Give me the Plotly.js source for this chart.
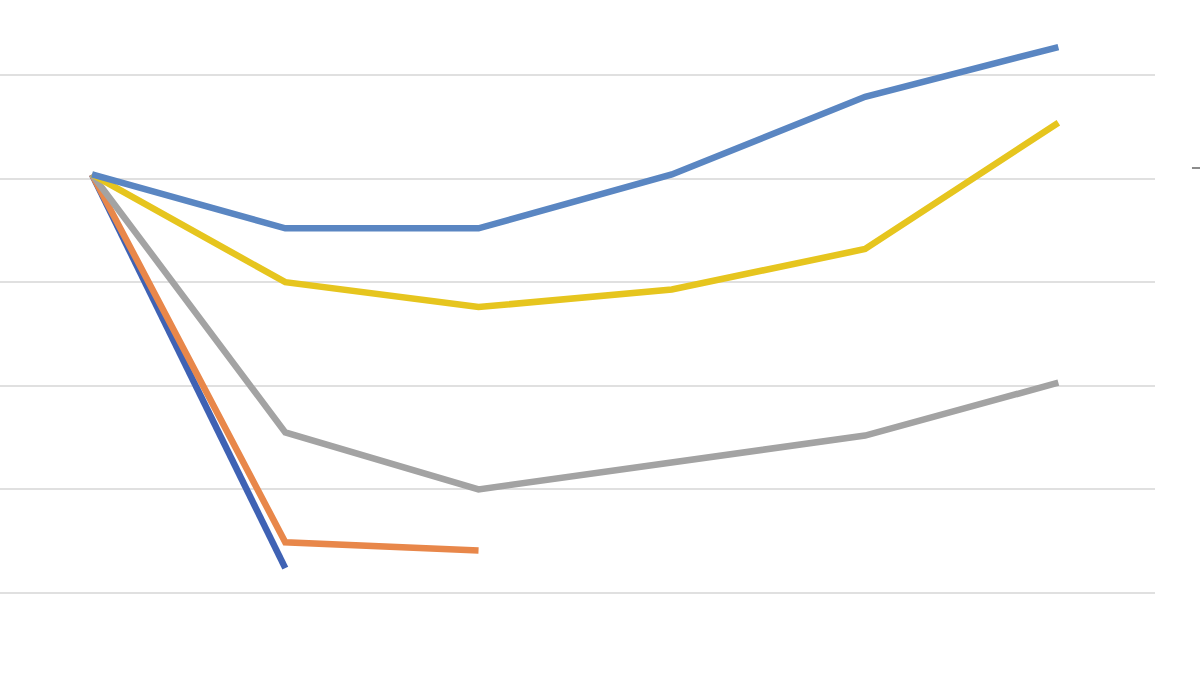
<!DOCTYPE html>
<html>
<head>
<meta charset="utf-8">
<script src="https://cdn.plot.ly/plotly-3.0.1.min.js"></script>
<style>html,body{margin:0;padding:0;background:#fff;}#chart{width:1200px;height:683px;}</style>
</head>
<body>
<div id="chart"></div>
<script>
// Data (category index 0..5, unitless values)
const categories = [0, 1, 2, 3, 4, 5];
const seriesBlue   = [4.04, 3.52, 3.52, 4.04, 4.79, 5.27];
const seriesYellow = [4.04, 3.00, 2.76, 2.93, 3.32, 4.54];
const seriesGray   = [4.04, 1.55, 1.00, 1.26, 1.52, 2.03];
const seriesOrange = [4.04, 0.49, 0.41];
const seriesDark   = [4.04, 0.24];
const gridTicks    = [0, 1, 2, 3, 4, 5];

const mk = (y, color) => ({
  x: categories.slice(0, y.length), y: y, type: 'scatter', mode: 'lines',
  line: {color: color, width: 6.5}, hoverinfo: 'skip', showlegend: false
});

const data = [
  mk(seriesDark, '#3F62B4'),
  mk(seriesOrange, '#E8874A'),
  mk(seriesGray, '#A3A3A3'),
  mk(seriesYellow, '#E6C51E'),
  mk(seriesBlue, '#5A86C2')
];

const layout = {
  width: 1200, height: 683,
  margin: {l: 0, r: 45, t: 0, b: 0},
  paper_bgcolor: '#ffffff', plot_bgcolor: '#ffffff',
  xaxis: {range: [-0.476, 5.5], showgrid: false, zeroline: false, showticklabels: false, ticks: '', showline: false},
  yaxis: {range: [-0.869, 5.724], tickvals: gridTicks, showgrid: true, gridcolor: '#e0e0e0', gridwidth: 2,
          zeroline: false, showticklabels: false, ticks: '', showline: false},
  shapes: [{type: 'line', xref: 'paper', yref: 'paper', x0: 1.032, x1: 1.04, y0: 0.754, y1: 0.754,
            line: {color: '#8c8c8c', width: 2}}]
};

Plotly.newPlot('chart', data, layout, {staticPlot: true, displayModeBar: false});
</script>
</body>
</html>
